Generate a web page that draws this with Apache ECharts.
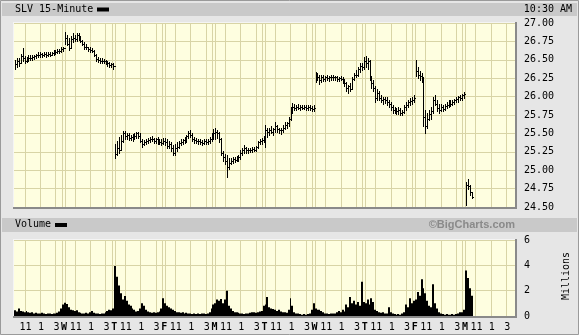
<!DOCTYPE html>
<html><head><meta charset="utf-8">
<script src="https://cdn.jsdelivr.net/npm/echarts@6/dist/echarts.min.js"></script>
<style>html,body{margin:0;padding:0;background:#e6e6e6}#c{width:579px;height:335px}</style>
</head><body><div id="c"></div>
<script>
// ---- data: SLV 15-minute bars, 26 bars per session, 10 sessions (last one partial) ----
const barsPerDay = 26;
const dayCount = 10;
const hourTickBars = [6, 14, 22];           // 11:00, 1:00, 3:00
const hourTickLabels = ['11', '1', '3'];
const dayLetters = ['W', 'T', 'F', 'M', 'T', 'W', 'T', 'F', 'M'];
const priceTicks = [24.5, 27.0];
const volumeTicks = [0, 6];

const highs = [
  26.50,26.52,26.52,26.58,26.66,26.55,26.54,26.56,26.56,26.56,26.57,26.58,26.60,26.60,26.59,26.60,26.60,26.61,26.60,26.61,26.63,26.63,26.64,26.64,26.67,26.68,
  26.88,26.84,26.80,26.82,26.86,26.84,26.86,26.86,26.82,26.77,26.74,26.72,26.68,26.67,26.66,26.63,26.58,26.54,26.52,26.52,26.51,26.50,26.48,26.47,26.46,26.45,
  25.36,25.40,25.45,25.48,25.53,25.53,25.50,25.50,25.48,25.49,25.50,25.52,25.52,25.50,25.42,25.41,25.43,25.44,25.45,25.46,25.44,25.44,25.45,25.43,25.42,25.44,
  25.44,25.42,25.40,25.38,25.34,25.36,25.38,25.40,25.42,25.43,25.45,25.48,25.53,25.54,25.50,25.45,25.44,25.43,25.42,25.41,25.42,25.43,25.42,25.45,25.50,25.56,
  25.58,25.55,25.52,25.44,25.26,25.22,25.20,25.16,25.17,25.18,25.18,25.19,25.21,25.28,25.30,25.34,25.32,25.30,25.30,25.31,25.31,25.33,25.40,25.42,25.44,25.46,
  25.62,25.58,25.57,25.60,25.58,25.66,25.62,25.58,25.58,25.62,25.66,25.66,25.72,25.86,25.91,25.90,25.89,25.90,25.88,25.88,25.89,25.88,25.89,25.88,25.87,25.88,
  26.33,26.32,26.30,26.30,26.29,26.28,26.29,26.28,26.29,26.29,26.28,26.28,26.27,26.28,26.26,26.24,26.20,26.16,26.18,26.26,26.32,26.36,26.40,26.46,26.45,26.54,
  26.55,26.52,26.50,26.28,26.22,26.14,26.10,26.08,26.02,26.00,26.00,25.99,25.96,25.92,25.88,25.86,25.85,25.86,25.84,25.82,25.88,25.92,25.96,25.98,25.99,26.02,
  26.50,26.40,26.35,26.32,26.26,25.82,25.78,25.82,25.86,26.00,26.02,25.96,25.90,25.90,25.88,25.90,25.92,25.96,25.95,25.96,25.97,26.00,26.01,26.02,26.04,26.06,
  24.84,24.88,24.80,24.70
];
const lows = [
  26.38,26.40,26.42,26.46,26.48,26.46,26.47,26.49,26.50,26.50,26.51,26.52,26.54,26.54,26.54,26.55,26.54,26.55,26.55,26.56,26.57,26.58,26.59,26.59,26.61,26.62,
  26.72,26.70,26.63,26.66,26.74,26.75,26.76,26.77,26.74,26.70,26.65,26.65,26.62,26.61,26.60,26.55,26.49,26.47,26.46,26.46,26.45,26.44,26.42,26.40,26.40,26.38,
  25.16,25.20,25.24,25.28,25.38,25.42,25.42,25.41,25.41,25.40,25.42,25.44,25.44,25.38,25.32,25.34,25.36,25.37,25.38,25.39,25.37,25.37,25.36,25.35,25.34,25.35,
  25.34,25.30,25.30,25.26,25.20,25.21,25.26,25.30,25.34,25.35,25.37,25.38,25.44,25.45,25.40,25.37,25.37,25.36,25.35,25.34,25.35,25.36,25.35,25.37,25.40,25.42,
  25.42,25.44,25.38,25.20,25.12,25.08,24.91,25.02,25.08,25.10,25.11,25.12,25.13,25.15,25.20,25.24,25.24,25.24,25.25,25.25,25.26,25.26,25.30,25.35,25.36,25.38,
  25.32,25.45,25.48,25.50,25.48,25.52,25.52,25.50,25.49,25.52,25.56,25.58,25.60,25.68,25.78,25.82,25.82,25.83,25.82,25.83,25.83,25.82,25.82,25.82,25.80,25.81,
  26.20,26.22,26.17,26.20,26.21,26.21,26.22,26.21,26.23,26.23,26.22,26.21,26.21,26.22,26.19,26.15,26.08,26.05,26.08,26.10,26.22,26.26,26.28,26.34,26.36,26.38,
  26.40,26.38,26.22,26.12,26.08,25.92,25.95,25.95,25.92,25.90,25.91,25.88,25.86,25.82,25.78,25.78,25.76,25.77,25.75,25.75,25.78,25.82,25.86,25.88,25.90,25.92,
  26.28,26.25,26.22,26.20,25.60,25.50,25.58,25.68,25.70,25.78,25.88,25.80,25.78,25.80,25.80,25.82,25.84,25.86,25.87,25.88,25.90,25.92,25.93,25.95,25.96,25.98,
  24.53,24.74,24.66,24.62
];
const closes = [
  26.44,26.48,26.46,26.55,26.52,26.49,26.52,26.53,26.52,26.54,26.55,26.56,26.57,26.58,26.56,26.58,26.57,26.58,26.57,26.59,26.60,26.61,26.62,26.62,26.64,26.66,
  26.80,26.72,26.66,26.78,26.80,26.78,26.84,26.80,26.76,26.72,26.68,26.67,26.64,26.63,26.62,26.57,26.51,26.50,26.49,26.48,26.49,26.46,26.45,26.43,26.44,26.41,
  25.22,25.30,25.28,25.40,25.50,25.46,25.48,25.44,25.45,25.46,25.47,25.50,25.47,25.40,25.36,25.38,25.40,25.41,25.42,25.43,25.40,25.42,25.39,25.38,25.37,25.40,
  25.38,25.33,25.36,25.30,25.24,25.30,25.32,25.37,25.38,25.41,25.42,25.46,25.50,25.48,25.43,25.41,25.40,25.39,25.38,25.37,25.40,25.38,25.40,25.42,25.46,25.50,
  25.52,25.50,25.42,25.24,25.18,25.12,25.05,25.10,25.13,25.15,25.14,25.16,25.18,25.24,25.27,25.30,25.27,25.28,25.27,25.29,25.28,25.31,25.38,25.39,25.41,25.44,
  25.55,25.52,25.55,25.52,25.56,25.60,25.56,25.54,25.55,25.58,25.62,25.64,25.70,25.82,25.86,25.85,25.86,25.85,25.86,25.85,25.86,25.84,25.86,25.85,25.83,25.85,
  26.30,26.26,26.22,26.27,26.24,26.26,26.25,26.26,26.27,26.26,26.27,26.24,26.25,26.24,26.22,26.18,26.12,26.14,26.10,26.24,26.30,26.30,26.38,26.42,26.40,26.48,
  26.45,26.48,26.25,26.18,26.12,25.98,26.05,25.98,25.96,25.97,25.95,25.92,25.90,25.86,25.82,25.80,25.80,25.82,25.78,25.79,25.86,25.88,25.92,25.94,25.96,25.98,
  26.35,26.30,26.28,26.25,25.72,25.60,25.70,25.76,25.80,25.95,25.90,25.84,25.82,25.86,25.83,25.87,25.88,25.92,25.90,25.93,25.95,25.97,25.99,25.98,26.02,26.04,
  24.80,24.78,24.70,24.64
];
const volumes = [ // millions of shares
  0.45,0.35,0.60,0.40,0.35,0.30,0.40,0.30,0.25,0.30,0.20,0.25,0.20,0.20,0.25,0.20,0.15,0.20,0.20,0.15,0.20,0.20,0.25,0.35,0.60,0.90,
  1.05,0.95,0.70,0.50,0.45,0.40,0.45,0.30,0.25,0.20,0.20,0.25,0.20,0.30,0.40,0.25,0.20,0.20,0.15,0.20,0.20,0.30,0.40,0.50,0.45,0.60,
  3.95,3.10,2.40,1.80,1.30,1.58,1.20,0.90,0.80,0.60,0.50,0.35,0.40,0.60,1.00,0.80,0.50,0.35,0.30,0.25,0.30,0.25,0.30,0.35,0.60,1.40,
  1.00,0.80,0.70,0.60,0.50,0.40,0.30,0.30,0.25,0.30,0.20,0.25,0.20,0.20,0.15,0.20,0.15,0.20,0.15,0.20,0.20,0.15,0.20,0.30,0.60,0.90,
  1.00,1.30,1.20,1.35,1.00,1.30,2.00,0.80,0.60,0.40,0.30,0.30,0.25,0.20,0.20,0.15,0.20,0.20,0.25,0.30,0.30,0.25,0.30,0.35,0.40,0.80,
  0.90,1.50,0.70,0.60,0.55,0.50,0.40,0.50,0.35,0.30,0.30,0.25,0.50,1.40,0.80,0.30,0.20,0.20,0.15,0.10,0.15,0.10,0.15,0.20,0.50,1.00,
  0.60,0.50,0.50,0.40,0.30,0.20,0.20,0.15,0.20,0.20,0.20,0.30,0.40,0.30,0.50,0.35,0.90,0.70,1.50,1.00,1.20,0.90,1.10,0.80,2.70,1.10,
  1.00,1.30,0.90,1.40,1.10,0.50,0.40,0.30,0.25,0.30,0.20,0.20,0.70,0.30,0.20,0.15,0.10,0.15,0.10,0.20,0.30,0.90,0.70,1.40,1.00,1.20,
  1.30,1.90,1.60,2.90,2.20,1.80,1.20,0.80,0.70,2.50,1.00,0.60,0.30,0.20,0.15,0.10,0.15,0.10,0.10,0.15,0.10,0.15,0.20,0.30,0.30,0.50,
  3.60,3.00,2.20,1.60
];

// ---- build ----
const totalBars = barsPerDay * dayCount;
const FONT = 'DejaVu Sans Mono';
const GRIDC = '#d8d4a6';

const vlines = [];
for (let d = 0; d < dayCount; d++) {
  if (d > 0) vlines.push([d * barsPerDay, 1]);
  hourTickBars.forEach(b => vlines.push([d * barsPerDay + b, 0]));
}
function vlineItem(params, api) {
  const cs = params.coordSys;
  const x = api.coord([api.value(0), 0])[0];
  const kind = api.value(1);
  const xs = kind === 1 ? [Math.floor(x) - 1.5, Math.floor(x) + 1.5] : [Math.round(x) - 0.5];
  return {
    type: 'group',
    children: xs.map(px => ({
      type: 'line',
      shape: { x1: px, y1: cs.y, x2: px, y2: cs.y + cs.height },
      style: { stroke: GRIDC, lineWidth: 1 }
    }))
  };
}
const priceData = closes.map((c, i) => [i + 0.5, highs[i], lows[i], c]);
const volData = volumes.map((v, i) => [i, v]);

function labelFmt(v) {
  const n = Math.round(v);
  if (Math.abs(v - n) > 1e-6) return '';
  const d = Math.floor(n / barsPerDay), off = n % barsPerDay;
  if (off === 0) return (d >= 1 && d <= dayLetters.length) ? '{b|' + dayLetters[d - 1] + '}' : '';
  const k = hourTickBars.indexOf(off);
  return k >= 0 ? hourTickLabels[k] : '';
}

const chart = echarts.init(document.getElementById('c'), null, { renderer: 'canvas' });
chart.setOption({
  animation: false,
  backgroundColor: '#e6e6e6',
  textStyle: { fontFamily: FONT },
  grid: [
    { left: 14, right: 64, top: 23, height: 184, show: true, backgroundColor: '#fefee0', borderWidth: 0 },
    { left: 14, right: 64, top: 240, height: 76, show: true, backgroundColor: '#fefee0', borderWidth: 0 }
  ],
  xAxis: [
    { type: 'value', gridIndex: 0, min: 0, max: totalBars, show: false },
    { type: 'value', gridIndex: 1, min: 0, max: totalBars, interval: 1,
      axisLine: { show: false }, axisTick: { show: false }, splitLine: { show: false },
      axisLabel: { show: true, margin: 6, color: '#000', fontFamily: FONT, fontSize: 10,
        showMinLabel: true, showMaxLabel: true, hideOverlap: false,
        formatter: labelFmt,
        rich: { b: { fontFamily: FONT, fontSize: 10, fontWeight: 'bold', color: '#000' } } } }
  ],
  yAxis: [
    { type: 'value', gridIndex: 0, position: 'right', min: priceTicks[0], max: priceTicks[1], interval: 0.25,
      axisLine: { show: false }, axisTick: { show: false },
      splitLine: { show: true, lineStyle: { color: GRIDC, width: 1 } },
      axisLabel: { margin: 9, color: '#000', fontFamily: FONT, fontSize: 10, formatter: v => v.toFixed(2) } },
    { type: 'value', gridIndex: 1, position: 'right', min: volumeTicks[0], max: volumeTicks[1], interval: 2,
      axisLine: { show: false }, axisTick: { show: false },
      splitLine: { show: true, lineStyle: { color: GRIDC, width: 1 } },
      axisLabel: { margin: 9, color: '#000', fontFamily: FONT, fontSize: 10 } }
  ],
  series: [
    { type: 'custom', xAxisIndex: 0, yAxisIndex: 0, z: 1, silent: true, data: vlines, renderItem: vlineItem },
    { type: 'custom', xAxisIndex: 1, yAxisIndex: 1, z: 1, silent: true, data: vlines, renderItem: vlineItem },
    { type: 'custom', name: 'SLV', xAxisIndex: 0, yAxisIndex: 0, z: 5, clip: true,
      data: priceData, encode: { x: 0, y: [1, 2, 3] },
      renderItem(params, api) {
        const x = api.value(0);
        const hi = api.coord([x, api.value(1)]);
        const lo = api.coord([x, api.value(2)]);
        const cl = api.coord([x + 0.75, api.value(3)]);
        const px = Math.round(hi[0]) + 0.5;
        const cy = Math.round(cl[1]) + 0.5;
        return { type: 'group', children: [
          { type: 'line', shape: { x1: px, y1: Math.round(hi[1]), x2: px, y2: Math.round(lo[1]) + 1 }, style: { stroke: '#000', lineWidth: 1 } },
          { type: 'line', shape: { x1: px, y1: cy, x2: Math.round(cl[0]) + 1, y2: cy }, style: { stroke: '#000', lineWidth: 1 } }
        ] };
      } },
    { type: 'custom', name: 'Volume', xAxisIndex: 1, yAxisIndex: 1, z: 5,
      data: volData, encode: { x: 0, y: 1 },
      renderItem(params, api) {
        const i = api.value(0);
        const a = api.coord([i, api.value(1)]);
        const b = api.coord([i + 1, 0]);
        const x0 = Math.round(a[0]), x1 = Math.round(b[0]);
        return { type: 'rect', shape: { x: x0, y: a[1], width: Math.max(1, x1 - x0), height: b[1] - a[1] }, style: { fill: '#000' } };
      } }
  ],
  graphic: [
    { type: 'rect', z: 0, shape: { x: 0.5, y: 0.5, width: 578, height: 334 }, style: { fill: null, stroke: '#9a9a9a', lineWidth: 1 } },
    { type: 'rect', z: 0, shape: { x: 2, y: 3, width: 575, height: 13 }, style: { fill: '#c9c9c9' } },
    { type: 'rect', z: 0, shape: { x: 2, y: 218, width: 575, height: 14 }, style: { fill: '#c9c9c9' } },
    { type: 'text', z: 10, left: 15, top: 4, style: { text: 'SLV 15-Minute', font: '10px "DejaVu Sans Mono"', fill: '#000' } },
    { type: 'rect', z: 10, shape: { x: 97, y: 7.5, width: 12, height: 4 }, style: { fill: '#000' } },
    { type: 'text', z: 10, right: 7, top: 4, style: { text: '10:30 AM', font: '10px "DejaVu Sans Mono"', fill: '#000' } },
    { type: 'text', z: 10, left: 15, top: 219, style: { text: 'Volume', font: '10px "DejaVu Sans Mono"', fill: '#000' } },
    { type: 'rect', z: 10, shape: { x: 55, y: 223, width: 12, height: 4 }, style: { fill: '#000' } },
    { type: 'text', z: 10, right: 64, top: 219, style: { text: '\u00A9BigCharts.com', font: 'bold 11px "Liberation Sans"', fill: '#8a8a8a' } },
    { type: 'text', z: 10, x: 566, y: 276, rotation: Math.PI / 2, style: { text: 'Millions', font: '10px "DejaVu Sans Mono"', fill: '#000', align: 'center', verticalAlign: 'middle' } },
    // plot frames (inset look)
    { type: 'line', z: 20, shape: { x1: 14, y1: 22.5, x2: 515, y2: 22.5 }, style: { stroke: '#f4f4f4', lineWidth: 1 } },
    { type: 'line', z: 20, shape: { x1: 13.5, y1: 22, x2: 13.5, y2: 208 }, style: { stroke: '#f4f4f4', lineWidth: 1 } },
    { type: 'line', z: 20, shape: { x1: 516, y1: 22, x2: 516, y2: 209 }, style: { stroke: '#8a8a8a', lineWidth: 2 } },
    { type: 'line', z: 20, shape: { x1: 13, y1: 208, x2: 517, y2: 208 }, style: { stroke: '#8a8a8a', lineWidth: 2 } },
    { type: 'line', z: 20, shape: { x1: 14, y1: 239.5, x2: 515, y2: 239.5 }, style: { stroke: '#f4f4f4', lineWidth: 1 } },
    { type: 'line', z: 20, shape: { x1: 13.5, y1: 239, x2: 13.5, y2: 317 }, style: { stroke: '#f4f4f4', lineWidth: 1 } },
    { type: 'line', z: 20, shape: { x1: 516, y1: 239, x2: 516, y2: 318 }, style: { stroke: '#8a8a8a', lineWidth: 2 } },
    { type: 'line', z: 20, shape: { x1: 13, y1: 317, x2: 517, y2: 317 }, style: { stroke: '#8a8a8a', lineWidth: 2 } }
  ]
});
</script></body></html>
